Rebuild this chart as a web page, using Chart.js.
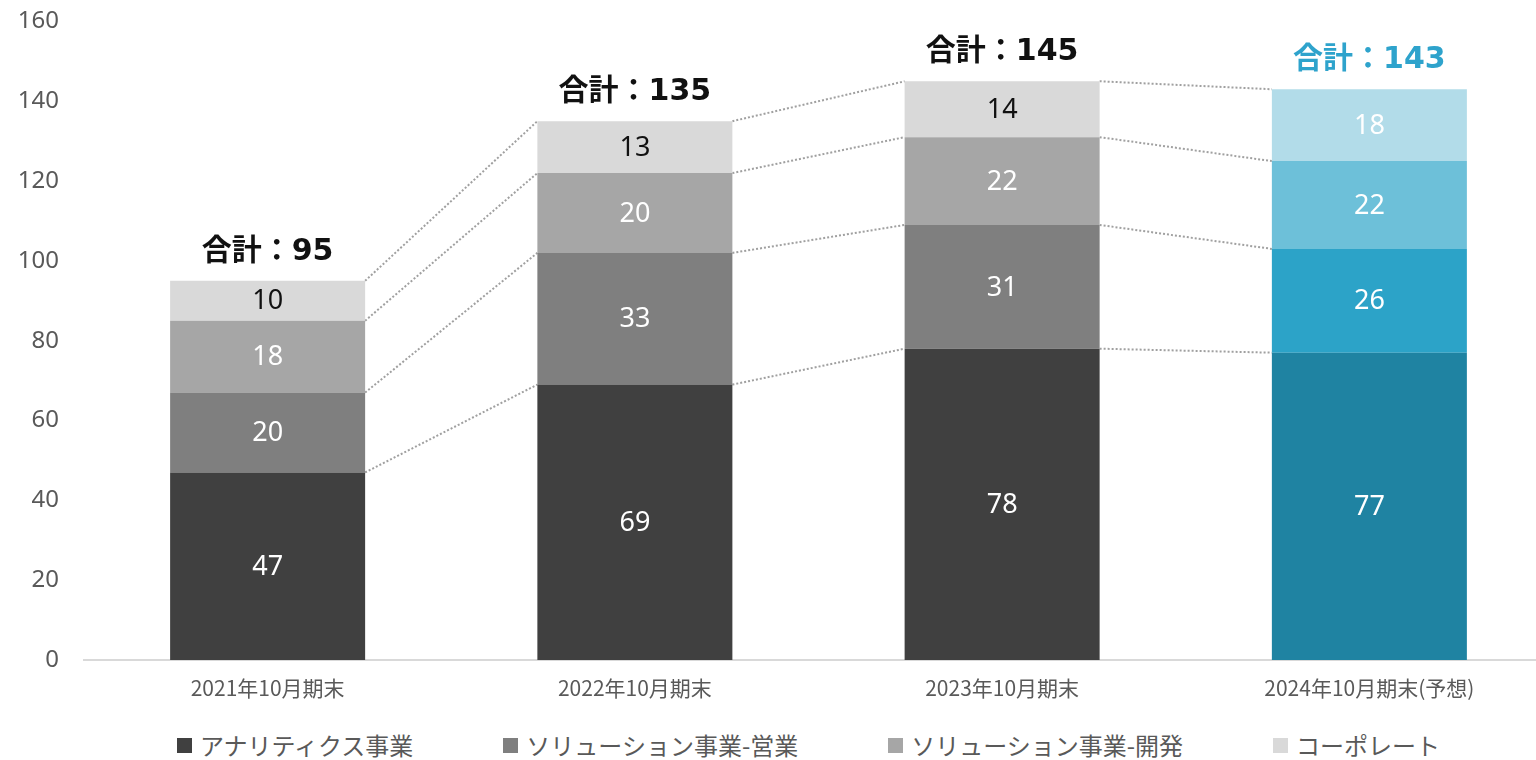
<!DOCTYPE html>
<html lang="ja">
<head>
<meta charset="UTF-8">
<title>従業員数推移</title>
<style>
    body {
        margin: 0;
        background: #fff;
        overflow: hidden;
    }
    .chart-box {
        position: relative;
        width: 1553px;
        height: 723px;
        margin-top: -18px;
    }
    .legend {
        position: absolute;
        top: 729px;
        left: 177px;
        display: flex;
        gap: 90px;
        font-family: "Noto Sans CJK JP", sans-serif;
        font-size: 24px;
        color: #595959;
        line-height: 32px;
    }
    .legend span.item {
        display: flex;
        align-items: center;
    }
    .legend span.box {
        display: inline-block;
        width: 15px;
        height: 15px;
        margin-right: 8px;
    }
</style>
</head>
<body>
<div class="chart-box">
    <canvas id="myChart"></canvas>
</div>
<div class="legend" id="legend"></div>

<script src="https://cdn.jsdelivr.net/npm/chart.js"></script>
<script>
    // 期末ごとの人数（事業別）
    const periods = ['2021年10月期末', '2022年10月期末', '2023年10月期末', '2024年10月期末(予想)'];
    const seriesNames = ['アナリティクス事業', 'ソリューション事業-営業', 'ソリューション事業-開発', 'コーポレート'];
    const analytics = [47, 69, 78, 77];
    const solutionSales = [20, 33, 31, 26];
    const solutionDev = [18, 20, 22, 22];
    const corporate = [10, 13, 14, 18];
    const yTicks = [0, 20, 40, 60, 80, 100, 120, 140, 160];

    // 実績はグレー、予想は青系
    const grayColors = ['#404040', '#7f7f7f', '#a6a6a6', '#d9d9d9'];
    const blueColors = ['#1f83a2', '#2ca3c8', '#6dc0d9', '#b2dce9'];
    const forecastIndex = 3;

    const seriesValues = [analytics, solutionSales, solutionDev, corporate];

    const datasets = seriesValues.map((values, s) => ({
        label: seriesNames[s],
        data: values,
        backgroundColor: periods.map((p, i) => i === forecastIndex ? blueColors[s] : grayColors[s]),
        borderWidth: 0,
        categoryPercentage: 1,
        barPercentage: 0.531
    }));

    // 凡例（HTML）
    const legendEl = document.getElementById('legend');
    seriesNames.forEach((name, s) => {
        const item = document.createElement('span');
        item.className = 'item';
        item.innerHTML = `<span class="box" style="background:${grayColors[s]}"></span>${name}`;
        legendEl.appendChild(item);
    });

    // 積み上げ同士をつなぐ点線
    const connectorPlugin = {
        id: 'connectors',
        beforeDatasetsDraw(chart) {
            const ctx = chart.ctx;
            ctx.save();
            ctx.strokeStyle = '#a0a0a0';
            ctx.lineWidth = 2;
            ctx.setLineDash([2, 2]);
            chart.data.datasets.forEach((ds, d) => {
                const bars = chart.getDatasetMeta(d).data;
                for (let i = 0; i < bars.length - 1; i++) {
                    const a = bars[i], b = bars[i + 1];
                    ctx.beginPath();
                    ctx.moveTo(a.x + a.width / 2, a.y);
                    ctx.lineTo(b.x - b.width / 2, b.y);
                    ctx.stroke();
                }
            });
            ctx.restore();
        }
    };

    // 値ラベルと合計ラベル
    const labelPlugin = {
        id: 'valueLabels',
        afterDatasetsDraw(chart) {
            const ctx = chart.ctx;
            const last = chart.data.datasets.length - 1;
            ctx.save();
            ctx.textAlign = 'center';
            ctx.textBaseline = 'middle';
            ctx.font = '27px "Noto Sans", sans-serif';
            chart.data.datasets.forEach((ds, d) => {
                chart.getDatasetMeta(d).data.forEach((bar, i) => {
                    const dark = d === last && i !== forecastIndex;
                    ctx.fillStyle = dark ? '#111111' : '#ffffff';
                    ctx.fillText(ds.data[i], bar.x, (bar.y + bar.base) / 2 + 1);
                });
            });

            ctx.font = 'bold 30px "DejaVu Sans", "Noto Sans CJK JP", sans-serif';
            chart.getDatasetMeta(last).data.forEach((bar, i) => {
                const total = seriesValues.reduce((sum, v) => sum + v[i], 0);
                ctx.fillStyle = i === forecastIndex ? '#2ea3cc' : '#111111';
                ctx.fillText('合計：' + total, bar.x, bar.y - 29);
            });
            ctx.restore();
        }
    };

    const ctx = document.getElementById('myChart').getContext('2d');

    const myChart = new Chart(ctx, {
        type: 'bar',
        data: {
            labels: periods,
            datasets: datasets
        },
        options: {
            responsive: true,
            maintainAspectRatio: false,
            animation: false,
            layout: {
                padding: { top: 3, right: 0, bottom: 0, left: 0 }
            },
            scales: {
                x: {
                    stacked: true,
                    grid: { display: false, drawTicks: false },
                    border: { display: true, color: '#d9d9d9', width: 2 },
                    ticks: {
                        padding: 15,
                        color: '#595959',
                        font: { family: '"Noto Sans CJK JP", sans-serif', size: 21 }
                    },
                    afterFit(scale) {
                        scale.height = 45;
                    }
                },
                y: {
                    stacked: true,
                    min: 0,
                    max: 160,
                    afterBuildTicks(scale) {
                        scale.ticks = yTicks.map(v => ({ value: v }));
                    },
                    grid: { display: false, drawTicks: false },
                    border: { display: false },
                    ticks: {
                        padding: 25,
                        color: '#595959',
                        font: { family: '"Noto Sans", sans-serif', size: 24 }
                    },
                    afterFit(scale) {
                        scale.width = 84;
                    }
                }
            },
            plugins: {
                legend: { display: false },
                tooltip: { enabled: false }
            }
        },
        plugins: [connectorPlugin, labelPlugin]
    });
</script>
</body>
</html>
